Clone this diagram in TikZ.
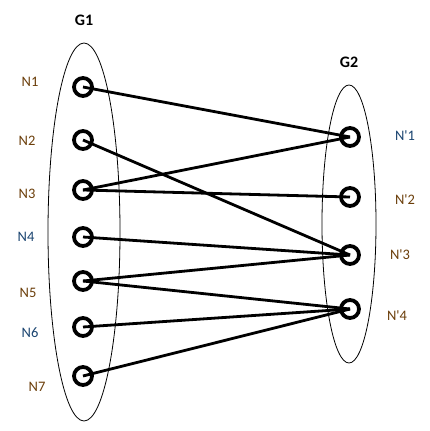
\documentclass[tikz,border=0pt]{standalone}
\usepackage{fontspec}
\setmainfont{Carlito}
\usepackage{xcolor}
\usepackage{tikz}
\usetikzlibrary{positioning}

\definecolor{labbrown}{HTML}{6B3E0A}
\definecolor{labblue}{HTML}{1A4470}

\begin{document}
\begin{tikzpicture}[
    x=1pt, y=-1pt,
    vertex/.style={draw, circle, line width=3.8pt, minimum size=18pt, inner sep=0pt},
    group/.style={draw, line width=0.8pt},
    edge/.style={draw, line width=2.8pt},
    lab/.style={font=\fontsize{14.5}{16}\selectfont, color=labbrown},
    labb/.style={lab, color=labblue},
    title/.style={font=\fontsize{16}{18}\selectfont\bfseries}
]
    \useasboundingbox (0,0) rectangle (429,431);

    % groups
    \draw[group] (84,232) ellipse [x radius=36, y radius=189];
    \draw[group] (349,224) ellipse [x radius=27, y radius=139];
    \node[title] (g1) at (84,20) {G1};
    \node[title] (g2) at (349,62) {G2};

    % left vertices
    \node[vertex] (n1) at (83,87) {};
    \node[vertex] (n2) at (83,140) {};
    \node[vertex] (n3) at (83,190) {};
    \node[vertex] (n4) at (83,237) {};
    \node[vertex] (n5) at (83,281) {};
    \node[vertex] (n6) at (83,327) {};
    \node[vertex] (n7) at (83,376) {};

    % right vertices
    \node[vertex] (m1) at (350,137) {};
    \node[vertex] (m2) at (350,197) {};
    \node[vertex] (m3) at (350,255) {};
    \node[vertex] (m4) at (350,309) {};

    % labels
    \node[lab] (l1) at (30,82) {N1};
    \node[lab] (l2) at (27,141) {N2};
    \node[lab] (l3) at (27,194) {N3};
    \node[labb] (l4) at (26,237) {N4};
    \node[lab] (l5) at (28,293) {N5};
    \node[labb] (l6) at (30,333) {N6};
    \node[lab] (l7) at (37,387) {N7};
    \node[labb] (k1) at (405,136) {N\textquotesingle 1};
    \node[lab] (k2) at (405,200) {N\textquotesingle 2};
    \node[lab] (k3) at (400,255) {N\textquotesingle 3};
    \node[lab] (k4) at (397,316) {N\textquotesingle 4};

    % edges
    \draw[edge] (n1.center) -- (m1.center);
    \draw[edge] (n2.center) -- (m3.center);
    \draw[edge] (n3.center) -- (m1.center);
    \draw[edge] (n3.center) -- (m2.center);
    \draw[edge] (n4.center) -- (m3.center);
    \draw[edge] (n5.center) -- (m3.center);
    \draw[edge] (n5.center) -- (m4.center);
    \draw[edge] (n6.center) -- (m4.center);
    \draw[edge] (n7.center) -- (m4.center);
\end{tikzpicture}
\end{document}
